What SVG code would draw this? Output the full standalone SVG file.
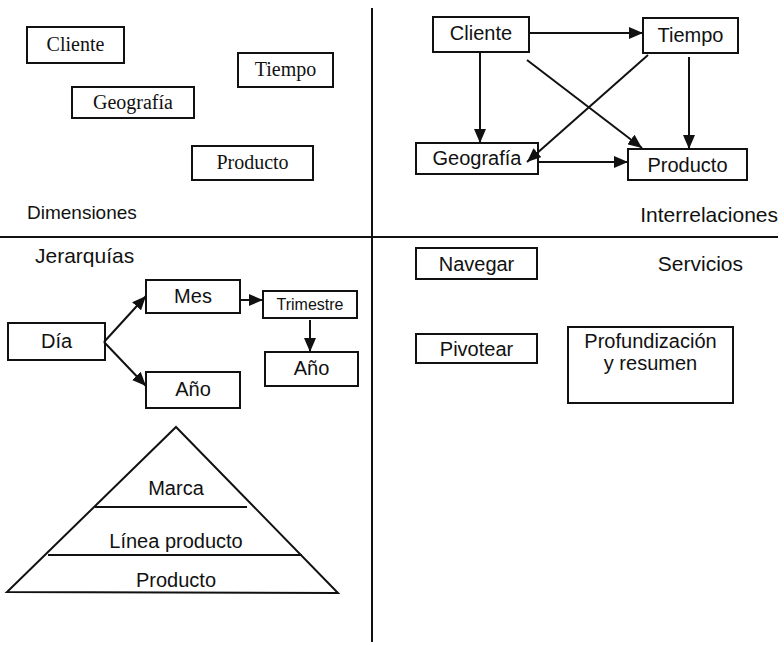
<svg xmlns="http://www.w3.org/2000/svg" width="784" height="645" viewBox="0 0 784 645">
  <defs>
    <marker id="arrow" viewBox="0 0 14 12" refX="14" refY="6" markerWidth="14" markerHeight="12" markerUnits="userSpaceOnUse" orient="auto">
      <path d="M0,0 L14,6 L0,12 Z" fill="#111"/>
    </marker>
    <style>
      .box { fill: #fff; stroke: #111; stroke-width: 2; }
      .serif { font-family: "Liberation Serif", "Times New Roman", serif; font-size: 20px; fill: #111; text-anchor: middle; }
      .sans { font-family: "Liberation Sans", Arial, sans-serif; font-size: 20px; fill: #111; text-anchor: middle; }
      .label { font-family: "Liberation Sans", Arial, sans-serif; font-size: 21px; fill: #111; }
      .small { font-size: 16px; }
      .edge { stroke: #111; stroke-width: 2; fill: none; marker-end: url(#arrow); }
      .rule { stroke: #111; stroke-width: 2; fill: none; }
    </style>
  </defs>

  <rect width="784" height="645" fill="#fff"/>

  <!-- quadrant dividers -->
  <g id="dividers">
    <line class="rule" x1="372" y1="8" x2="372" y2="642"/>
    <line class="rule" x1="0" y1="237" x2="778" y2="237"/>
  </g>

  <!-- quadrant titles -->
  <g id="titles">
    <text class="label" x="27" y="219" style="font-size:19px">Dimensiones</text>
    <text class="label" x="778" y="222" text-anchor="end">Interrelaciones</text>
    <text class="label" x="35" y="263">Jerarquías</text>
    <text class="label" x="743" y="271" text-anchor="end">Servicios</text>
  </g>

  <!-- Dimensiones -->
  <g id="dim-cliente"><rect class="box" x="27" y="27" width="97" height="36"/><text class="serif" x="75.5" y="51">Cliente</text></g>
  <g id="dim-tiempo"><rect class="box" x="238" y="53" width="95" height="34"/><text class="serif" x="285.5" y="76">Tiempo</text></g>
  <g id="dim-geografia"><rect class="box" x="72" y="87" width="122" height="31"/><text class="serif" x="133" y="109">Geografía</text></g>
  <g id="dim-producto"><rect class="box" x="192" y="146" width="121" height="34"/><text class="serif" x="252.5" y="169">Producto</text></g>

  <!-- Interrelaciones -->
  <g id="rel-cliente"><rect class="box" x="433" y="17" width="96" height="35"/><text class="sans" x="481" y="40">Cliente</text></g>
  <g id="rel-tiempo"><rect class="box" x="643" y="18" width="95" height="35"/><text class="sans" x="690.5" y="42">Tiempo</text></g>
  <g id="rel-geografia"><rect class="box" x="416" y="143" width="122" height="31"/><text class="sans" x="477" y="165">Geografía</text></g>
  <g id="rel-producto"><rect class="box" x="628" y="149" width="119" height="31"/><text class="sans" x="687.5" y="172">Producto</text></g>

  <!-- Jerarquías -->
  <g id="jer-dia"><rect class="box" x="8" y="323" width="97" height="37"/><text class="sans" x="56.5" y="348">Día</text></g>
  <g id="jer-mes"><rect class="box" x="146" y="280" width="94" height="33"/><text class="sans" x="193" y="303">Mes</text></g>
  <g id="jer-trimestre"><rect class="box" x="263" y="291" width="94" height="27"/><text class="sans small" x="310" y="310">Trimestre</text></g>
  <g id="jer-anio-1"><rect class="box" x="146" y="372" width="94" height="36"/><text class="sans" x="193" y="396">Año</text></g>
  <g id="jer-anio-2"><rect class="box" x="265" y="352" width="93" height="34"/><text class="sans" x="311.5" y="375">Año</text></g>

  <!-- product hierarchy pyramid -->
  <g id="piramide">
    <polygon points="176,427 338,593 7,592" fill="none" stroke="#111" stroke-width="2"/>
    <line class="rule" x1="95" y1="507" x2="247" y2="507"/>
    <line class="rule" x1="48" y1="555" x2="302" y2="555"/>
    <text class="sans" x="176" y="495">Marca</text>
    <text class="sans" x="176" y="548">Línea producto</text>
    <text class="sans" x="176" y="587">Producto</text>
  </g>

  <!-- Servicios -->
  <g id="srv-navegar"><rect class="box" x="416" y="248" width="121" height="31"/><text class="sans" x="476.5" y="271">Navegar</text></g>
  <g id="srv-pivotear"><rect class="box" x="416" y="334" width="121" height="29"/><text class="sans" x="476.5" y="356">Pivotear</text></g>
  <g id="srv-profundizacion"><rect class="box" x="568" y="327" width="165" height="76"/><text class="sans" x="650.5" y="348">Profundización</text><text class="sans" x="650.5" y="370">y resumen</text></g>

  <!-- connectors -->
  <g id="connectors">
    <line class="edge" x1="529" y1="33" x2="643" y2="33"/>
    <line class="edge" x1="480" y1="52" x2="480" y2="143"/>
    <line class="edge" x1="527" y1="60" x2="642" y2="148"/>
    <line class="edge" x1="648" y1="55" x2="527" y2="162"/>
    <line class="edge" x1="689" y1="57" x2="689" y2="149"/>
    <line class="edge" x1="538" y1="162" x2="628" y2="162"/>
    <line class="edge" x1="104" y1="342" x2="146" y2="296"/>
    <line class="edge" x1="104" y1="342" x2="146" y2="386"/>
    <line class="edge" x1="240" y1="300" x2="263" y2="300"/>
    <line class="edge" x1="310" y1="320" x2="310" y2="352"/>
  </g>
</svg>
